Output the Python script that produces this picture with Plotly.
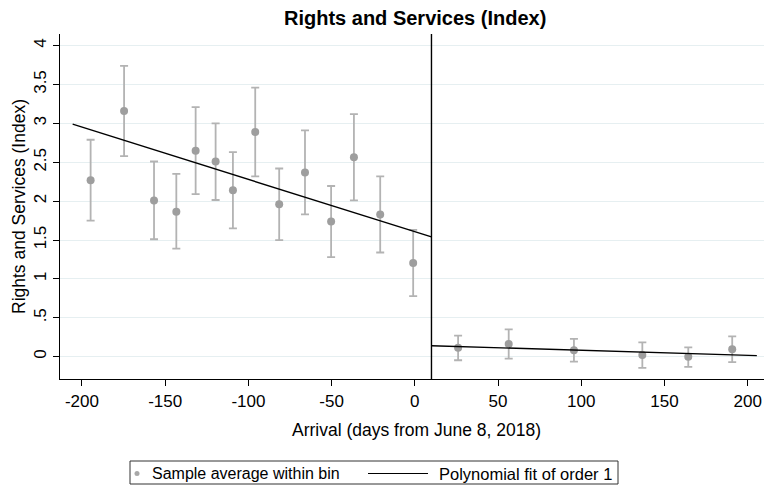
import plotly.graph_objects as go

# Binned sample means with 95% confidence intervals
bin_x = [-194.8, -174.7, -156.7, -143.3, -131.7, -119.7, -109.3, -95.9, -81.5, -66.0,
         -50.3, -36.6, -20.8, -1.0, 26.0, 56.4, 95.6, 136.7, 164.3, 190.7]
bin_mean = [2.27, 3.16, 2.01, 1.865, 2.65, 2.51, 2.14, 2.89, 1.96, 2.37,
            1.74, 2.565, 1.83, 1.205, 0.116, 0.163, 0.082, 0.022, 0.0, 0.095]
ci_high = [2.79, 3.74, 2.51, 2.35, 3.21, 3.0, 2.63, 3.46, 2.42, 2.91,
           2.195, 3.12, 2.32, 1.63, 0.27, 0.352, 0.228, 0.185, 0.12, 0.26]
ci_low = [1.75, 2.58, 1.51, 1.39, 2.09, 2.015, 1.65, 2.32, 1.50, 1.83,
          1.28, 2.01, 1.34, 0.78, -0.046, -0.026, -0.064, -0.145, -0.13, -0.07]

# Linear fits on each side of the cutoff
cutoff = 10
fit_left_x = [-205.6, 10]
fit_left_y = [2.99, 1.54]
fit_right_x = [10, 205.5]
fit_right_y = [0.141, 0.013]

# Axis ticks
x_ticks = [-200, -150, -100, -50, 0, 50, 100, 150, 200]
x_tick_text = ["-200", "-150", "-100", "-50", "0", "50", "100", "150", "200"]
y_ticks = [0, 0.5, 1, 1.5, 2, 2.5, 3, 3.5, 4]
y_tick_text = ["0", ".5", "1", "1.5", "2", "2.5", "3", "3.5", "4"]

title_text = "Rights and Services (Index)"
x_title = "Arrival (days from June 8, 2018)"
y_title = "Rights and Services (Index)"
legend_labels = ["Sample average within bin", "Polynomial fit of order 1"]

FONT = "Liberation Sans, Arial, sans-serif"
W, H = 764, 495
L, R, T, B = 60, 0, 34, 116
PW, PH = W - L - R, H - T - B


def px(x):
    return (x - L) / PW


def py(y):
    return (H - B - y) / PH


err_plus = [h - m for h, m in zip(ci_high, bin_mean)]
err_minus = [m - l for m, l in zip(bin_mean, ci_low)]

fig = go.Figure()
fig.add_trace(go.Scatter(
    x=bin_x, y=bin_mean, mode="markers",
    marker=dict(color="#9e9e9e", size=8),
    error_y=dict(type="data", array=err_plus, arrayminus=err_minus,
                 color="#b3b3b3", thickness=1.8, width=4),
    showlegend=False,
))
for fx, fy in [(fit_left_x, fit_left_y), (fit_right_x, fit_right_y)]:
    fig.add_trace(go.Scatter(x=fx, y=fy, mode="lines",
                             line=dict(color="black", width=1.4),
                             showlegend=False))

fig.add_shape(type="line", xref="x", yref="paper", x0=cutoff, x1=cutoff,
              y0=0, y1=1, line=dict(color="black", width=1.4))

# Legend drawn by hand below the plot
box_l, box_r, box_t, box_b = 130, 618, 461, 484
row_y = 473.5
fig.add_shape(type="rect", xref="paper", yref="paper",
              x0=px(box_l), x1=px(box_r), y0=py(box_b), y1=py(box_t),
              line=dict(color="#333333", width=1), fillcolor="white", layer="above")
fig.add_shape(type="circle", xref="paper", yref="paper",
              xsizemode="pixel", ysizemode="pixel",
              xanchor=px(137), yanchor=py(row_y),
              x0=-2.5, x1=2.5, y0=-2.5, y1=2.5,
              line=dict(color="#a8a8a8", width=0), fillcolor="#a8a8a8")
fig.add_shape(type="line", xref="paper", yref="paper",
              x0=px(368), x1=px(428), y0=py(row_y), y1=py(row_y),
              line=dict(color="black", width=1.2))
fig.add_annotation(x=px(150), y=py(row_y), xref="paper", yref="paper",
                   text=legend_labels[0], showarrow=False,
                   xanchor="left", yanchor="middle",
                   font=dict(family=FONT, size=16, color="black"))
fig.add_annotation(x=px(436.5), y=py(row_y), xref="paper", yref="paper",
                   text=legend_labels[1], showarrow=False,
                   xanchor="left", yanchor="middle",
                   font=dict(family=FONT, size=16.5, color="black"))

# Titles
fig.add_annotation(x=px(415), y=py(18), xref="paper", yref="paper",
                   text="<b>" + title_text + "</b>", showarrow=False,
                   xanchor="center", yanchor="middle",
                   font=dict(family=FONT, size=20, color="black"))
fig.add_annotation(x=px(416), y=py(430), xref="paper", yref="paper",
                   text=x_title, showarrow=False,
                   xanchor="center", yanchor="middle",
                   font=dict(family=FONT, size=17.5, color="black"))
fig.add_annotation(x=px(18.5), y=py(206.5), xref="paper", yref="paper",
                   text=y_title, showarrow=False, textangle=-90,
                   xanchor="center", yanchor="middle",
                   font=dict(family=FONT, size=17.5, color="black"))

fig.update_layout(
    width=W, height=H,
    margin=dict(l=L, r=R, t=T, b=B, pad=0),
    paper_bgcolor="white", plot_bgcolor="white",
    showlegend=False,
    font=dict(family=FONT, size=17, color="black"),
)
fig.update_xaxes(
    range=[-213.2, 209.8], tickvals=x_ticks, ticktext=x_tick_text,
    showgrid=False, zeroline=False,
    showline=True, linecolor="black", linewidth=1.2,
    ticks="outside", ticklen=6, tickwidth=1.2, tickcolor="black",
    tickfont=dict(family=FONT, size=17),
)
fig.update_yaxes(
    range=[-0.287, 4.150], tickvals=y_ticks, ticktext=y_tick_text,
    tickangle=-90,
    showgrid=True, gridcolor="#e6eff1", gridwidth=1,
    zeroline=False,
    showline=True, linecolor="black", linewidth=1.2,
    ticks="outside", ticklen=6, tickwidth=1.2, tickcolor="black",
    tickfont=dict(family=FONT, size=17),
)

fig.write_html("out.html")
